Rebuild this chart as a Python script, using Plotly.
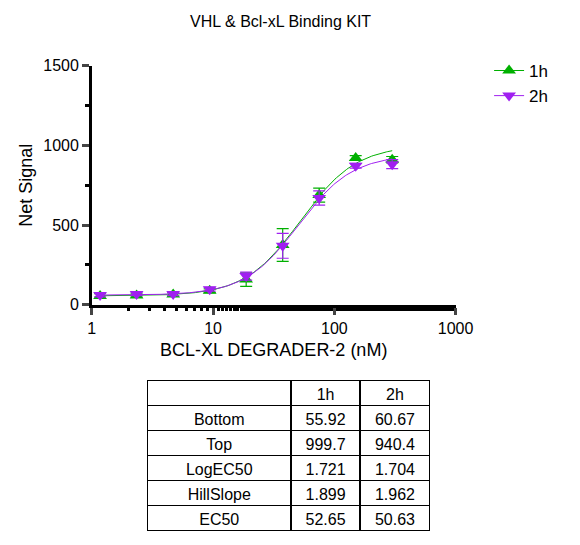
import numpy as np
import plotly.graph_objects as go

conc = [1.17, 2.34, 4.69, 9.38, 18.75, 37.5, 75, 150, 300]
signal_1h = [55, 58, 65, 88, 158, 375, 688, 921, 910]
err_1h = [15, 10, 10, 12, 42, 103, 44, 15, 20]
signal_2h = [62, 68, 68, 98, 180, 370, 670, 872, 882]
err_2h = [12, 10, 10, 12, 25, 78, 45, 15, 28]

param_names = ["Bottom", "Top", "LogEC50", "HillSlope", "EC50"]
params_1h = [55.92, 999.7, 1.721, 1.899, 52.65]
params_2h = [60.67, 940.4, 1.704, 1.962, 50.63]

green = "#00b000"
purple = "#a020f0"


def four_pl(x, p):
    bottom, top, log_ec50, hill = p[:4]
    return bottom + (top - bottom) / (1 + 10 ** ((log_ec50 - np.log10(x)) * hill))


fig = go.Figure()
x_fit = np.logspace(np.log10(conc[0]), np.log10(conc[-1]), 200)
for name, ys, errs, p, color, symbol in [
    ("1h", signal_1h, err_1h, params_1h, green, "triangle-up"),
    ("2h", signal_2h, err_2h, params_2h, purple, "triangle-down"),
]:
    fig.add_scatter(x=x_fit, y=four_pl(x_fit, p), mode="lines", showlegend=False,
                    line={"color": color, "width": 1})
    fig.add_scatter(x=conc, y=ys, mode="markers", showlegend=False,
                    marker={"color": color, "symbol": symbol, "size": 12},
                    error_y={"type": "data", "array": errs, "color": color,
                             "thickness": 1.2, "width": 6})
    # legend entry: line with marker
    fig.add_scatter(x=[None], y=[None], mode="lines+markers", name=name,
                    line={"color": color, "width": 1},
                    marker={"color": color, "symbol": symbol, "size": 12})

fig.add_trace(go.Table(
    domain={"x": [0.243, 0.75], "y": [0.02, 0.31]},
    columnwidth=[1.55, 0.75, 0.75],
    header={"values": ["", "1h", "2h"], "line": {"color": "black", "width": 1.5},
            "fill": {"color": "white"}, "font": {"size": 16, "color": "black"},
            "height": 25, "align": "center"},
    cells={"values": [param_names, [f"{v}" for v in params_1h], [f"{v}" for v in params_2h]],
           "line": {"color": "black", "width": 1.5}, "fill": {"color": "white"},
           "font": {"size": 16, "color": "black"}, "height": 25, "align": "center"},
))

fig.update_layout(
    width=580, height=545,
    paper_bgcolor="white", plot_bgcolor="white",
    font={"family": "Arial, Liberation Sans", "color": "black"},
    title={"text": "VHL & Bcl-xL Binding KIT", "x": 0.47, "y": 0.985, "font": {"size": 16}},
    margin={"l": 0, "r": 0, "t": 0, "b": 0},
    legend={"x": 0.855, "y": 0.93, "yanchor": "top", "font": {"size": 17},
            "tracegroupgap": 12},
    xaxis={"type": "log", "range": [0, 3], "domain": [0.143, 0.795],
           "showline": True, "linecolor": "black", "linewidth": 2.5,
           "ticks": "outside", "ticklen": 7, "tickwidth": 2.5,
           "tickvals": [1, 10, 100, 1000], "ticktext": ["1", "10", "100", "1000"],
           "tickfont": {"size": 16, "family": "Arial Black, Arial"}, "showgrid": False, "zeroline": False,
           "minor": {"ticks": "outside", "ticklen": 3, "tickcolor": "black"},
           "title": {"text": "BCL-XL DEGRADER-2 (nM)", "font": {"size": 18}, "standoff": 8}},
    yaxis={"range": [0, 1500], "domain": [0.453, 0.906],
           "showline": True, "linecolor": "black", "linewidth": 2.5,
           "ticks": "outside", "ticklen": 7, "tickwidth": 2.5,
           "tickvals": [0, 500, 1000, 1500], "tickfont": {"size": 16, "family": "Arial Black, Arial"},
           "showgrid": False, "zeroline": False,
           "minor": {"ticks": "outside", "ticklen": 4, "tickcolor": "black", "dtick": 250},
           "title": {"text": "Net Signal", "font": {"size": 18}, "standoff": 6}},
)

fig.write_html("out.html")
